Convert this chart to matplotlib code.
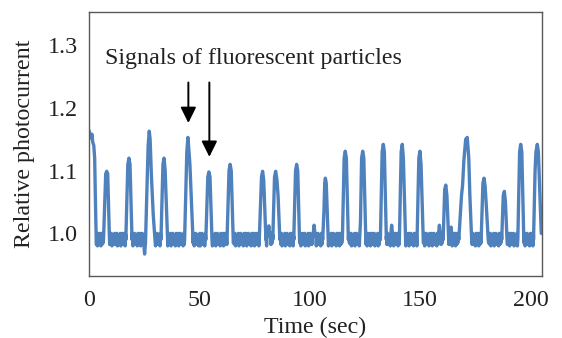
import numpy as np
import matplotlib
matplotlib.use("Agg")
import matplotlib.pyplot as plt

# ---------------- data ----------------
x_ticks = [0, 50, 100, 150, 200]
y_ticks = [1.0, 1.1, 1.2, 1.3]

# baseline noise samples every 0.25 s from t=0 (digit d -> 0.980 + d*0.00222)
noise_digits = (
    "08192918072918190829170918290819271809192908172918"
    "19081729081927190818290917281908192718091829071928"
    "90718290819271809182907192818091729081928190718290"
    "81927180918290719281809172908192819071829081927180"
    "29071928180917290819281907182908192718091829071928"
    "18091729081928190718290819271809182907192818091729"
    "08192819071829081927180918290719281809172908192819"
    "07182908192718091829071928180917290819281907182908"
    "19271809182907192818091729081928190718290819271809"
    "18290719281809172908192819071829081927180918290719"
    "28180917290819281907182908192718091829071928180917"
    "29081928190718290819271809182907192818091729081928"
    "19071829081927180918290719281809172908192819071829"
    "08192718091829071928180917290819281907182908192718"
    "09182907192818091729081928190718290819271809182907"
    "19281809172908192819071829081927180918290719281809"
    "172908192819071829081"
)

# peak segments: (times, values)
peaks = [
    ([0.0, 0.5, 1.0, 1.5, 1.8, 2.3, 2.7, 3.0, 3.4],
     [1.165, 1.16, 1.152, 1.158, 1.146, 1.14, 1.12, 1.06, 0.99]),
    ([6.7, 7.7, 8.15, 8.6, 9.4], [0.99, 1.095, 1.099, 1.095, 0.99]),
    ([16.8, 17.7, 18.2, 18.7, 19.6], [0.99, 1.11, 1.12, 1.11, 0.99]),
    ([25.0, 25.3, 25.7, 26.2, 26.9, 27.4, 27.8, 28.4, 29.2, 30.0],
     [0.98, 0.967, 0.985, 1.05, 1.14, 1.163, 1.15, 1.09, 1.03, 0.99]),
    ([32.7, 33.6, 34.1, 34.6, 35.7], [0.99, 1.11, 1.12, 1.10, 0.99]),
    ([43.4, 44.4, 44.9, 45.4, 45.8, 46.5, 47.2],
     [0.99, 1.13, 1.153, 1.13, 1.11, 1.05, 0.99]),
    ([53.0, 53.9, 54.4, 54.9, 55.8], [0.99, 1.09, 1.098, 1.09, 0.99]),
    ([62.6, 63.5, 64.0, 64.5, 65.4], [0.99, 1.10, 1.11, 1.10, 0.99]),
    ([77.2, 78.2, 78.7, 79.2, 80.2], [0.99, 1.09, 1.099, 1.085, 0.99]),
    ([81.0, 81.5, 82.0], [0.995, 1.012, 0.995]),
    ([83.3, 84.1, 84.6, 85.2, 85.7, 86.5], [0.99, 1.09, 1.099, 1.085, 1.06, 0.99]),
    ([92.8, 93.6, 94.1, 94.6, 95.4], [0.99, 1.10, 1.11, 1.10, 0.99]),
    ([101.5, 102.0, 102.5], [0.995, 1.013, 0.995]),
    ([105.9, 106.5, 106.8, 107.1, 107.5, 108.4], [0.99, 1.04, 1.08, 1.088, 1.08, 0.99]),
    ([114.8, 115.6, 116.1, 116.6, 117.5], [0.99, 1.12, 1.131, 1.12, 0.99]),
    ([122.6, 123.0, 123.5, 124.0, 124.5, 125.4], [0.99, 1.02, 1.12, 1.131, 1.12, 0.99]),
    ([132.0, 132.8, 133.3, 133.8, 134.7], [0.99, 1.13, 1.142, 1.13, 0.99]),
    ([136.6, 137.1, 137.6], [0.995, 1.013, 0.995]),
    ([140.6, 141.4, 141.9, 142.4, 143.4], [0.99, 1.13, 1.142, 1.12, 0.99]),
    ([148.6, 149.4, 149.9, 150.4, 151.4], [0.99, 1.12, 1.131, 1.11, 0.99]),
    ([158.2, 158.7, 159.2], [0.995, 1.013, 0.995]),
    ([160.4, 161.1, 161.6, 162.1, 162.9], [0.99, 1.07, 1.077, 1.06, 0.99]),
    ([163.6, 164.0, 164.4], [0.995, 1.01, 0.995]),
    ([167.5, 168.0, 168.7, 169.2, 169.8, 170.6, 171.3, 172.0, 172.5, 173.3],
     [0.99, 1.02, 1.06, 1.077, 1.117, 1.15, 1.153, 1.12, 1.06, 0.99]),
    ([177.6, 178.4, 178.9, 179.4, 180.0, 180.8], [0.99, 1.08, 1.088, 1.075, 1.04, 0.99]),
    ([186.9, 187.6, 188.1, 188.6, 189.3], [0.99, 1.06, 1.067, 1.05, 0.99]),
    ([194.2, 195.0, 195.5, 196.0, 196.9], [0.99, 1.13, 1.142, 1.13, 0.99]),
    ([201.3, 202.0, 202.4, 203.0, 203.5, 204.2, 204.8, 205.0],
     [0.99, 1.10, 1.13, 1.142, 1.13, 1.06, 1.0, 1.0]),
]

# ---------------- assemble trace ----------------
t_noise = np.arange(len(noise_digits)) * 0.25
v_noise = 0.980 + np.array([int(c) for c in noise_digits]) * 0.00222
keep = np.ones(len(t_noise), dtype=bool)
for ts, vs in peaks:
    keep &= ~((t_noise >= ts[0]) & (t_noise <= ts[-1]))
t_all = list(t_noise[keep])
v_all = list(v_noise[keep])
for ts, vs in peaks:
    t_all += ts
    v_all += vs
order = np.argsort(t_all, kind="stable")
t_all = np.array(t_all)[order]
v_all = np.array(v_all)[order]

# ---------------- plot ----------------
plt.rcParams["font.family"] = ["Liberation Serif", "DejaVu Serif"]
plt.rcParams["path.simplify"] = False
fig = plt.figure(figsize=(5.62, 3.38), dpi=100)
ax = fig.add_axes([88.7 / 562, 62 / 338, (541.7 - 88.7) / 562, 264 / 338])

ax.plot(t_all, v_all, color="#4F81BD", lw=2.4, solid_joinstyle="round")

FS = 17.3
ax.set_xlim(0, 205)
ax.set_ylim(0.932, 1.353)
ax.set_xticks(x_ticks)
ax.set_xticklabels([str(v) for v in x_ticks])
ax.set_yticks(y_ticks)
ax.set_yticklabels([f"{v:.1f}" for v in y_ticks])
ax.tick_params(length=0, labelsize=FS, colors="#222222")
ax.tick_params(axis="x", pad=10)
ax.tick_params(axis="y", pad=8)
for s in ax.spines.values():
    s.set_color("#595959")
    s.set_linewidth(1.0)

ax.set_xlabel("Time (sec)", fontsize=FS, labelpad=4, color="#222222")
ax.set_ylabel("Relative photocurrent", fontsize=FS, labelpad=9, color="#222222")

ax.text(7.4, 1.279, "Signals of fluorescent particles", fontsize=FS,
        ha="left", va="center", color="#222222")

for xa, ytip in [(45.1, 1.176), (54.6, 1.122)]:
    ax.annotate("", xy=(xa, ytip), xytext=(xa, 1.2406),
                arrowprops=dict(arrowstyle="-|>,head_length=0.95,head_width=0.47",
                                mutation_scale=10, lw=1.4, color="black",
                                shrinkA=0, shrinkB=0))

fig.savefig("out.png", dpi=100)
